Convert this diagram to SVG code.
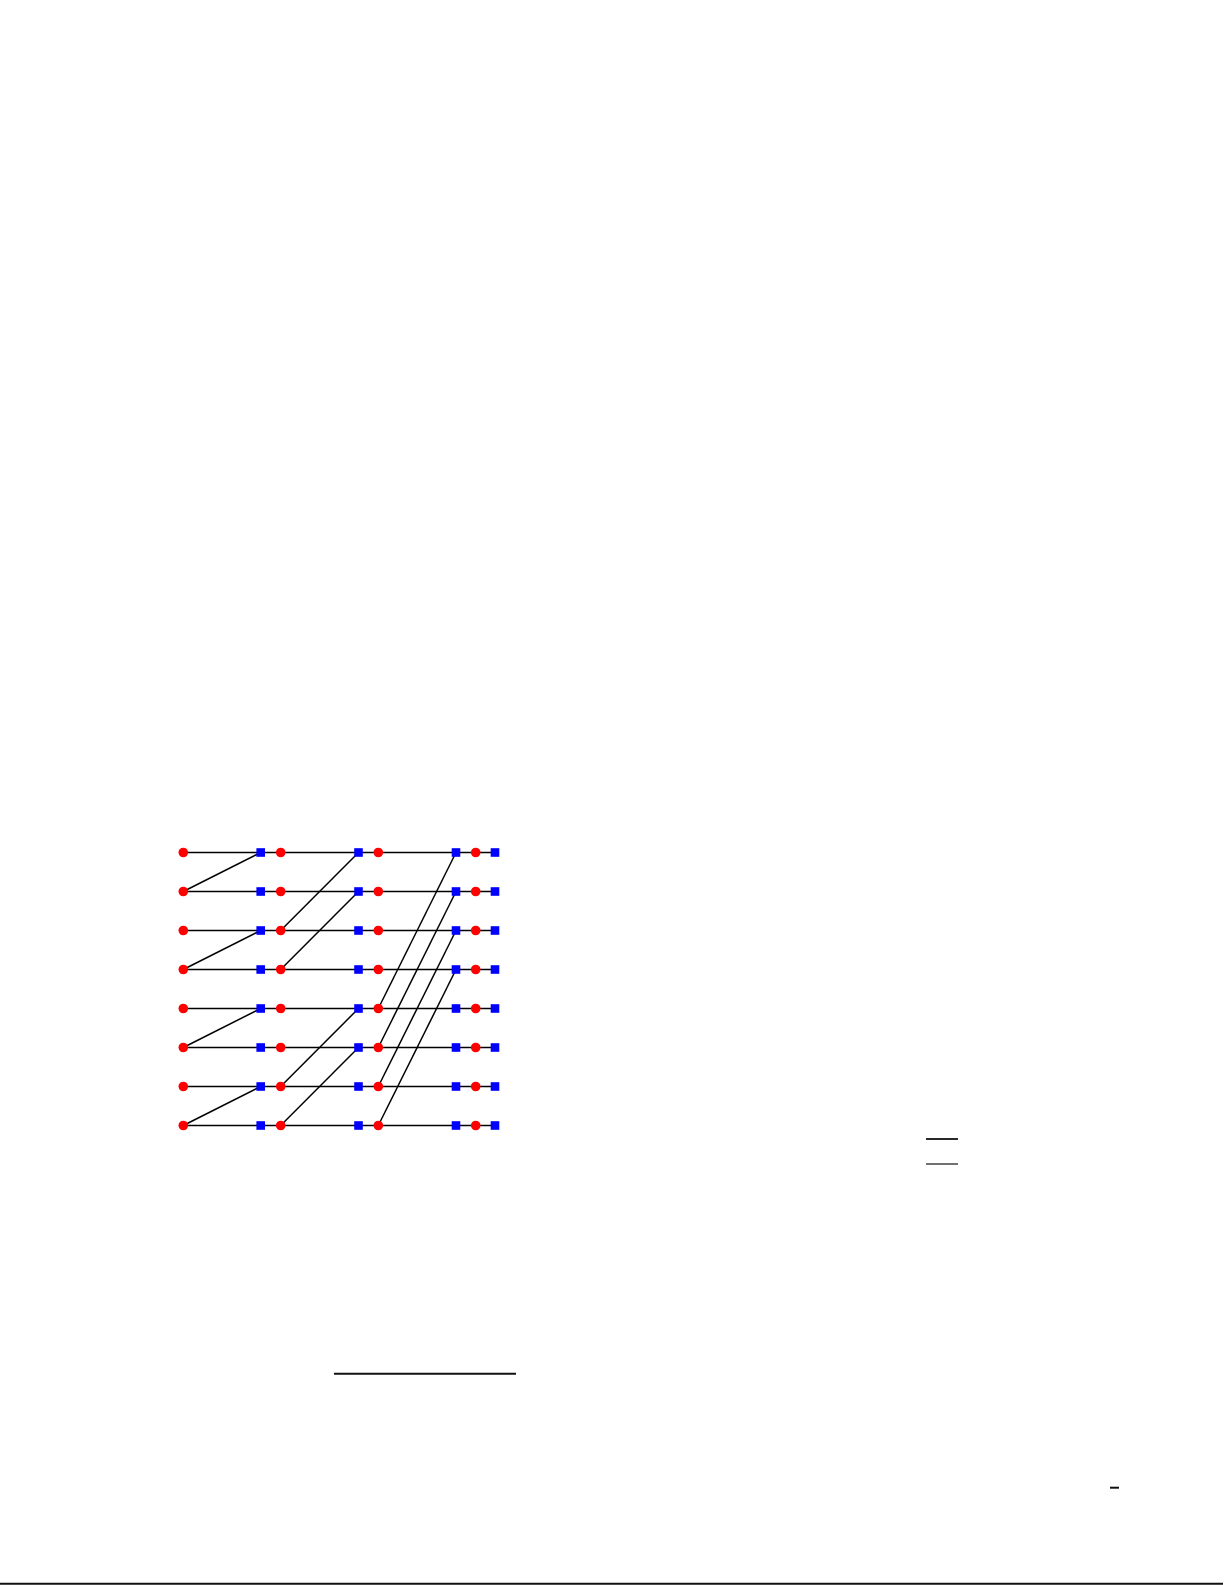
<svg xmlns="http://www.w3.org/2000/svg" width="1225" height="1585" viewBox="0 0 1225 1585">
<style>
.e{stroke:#000;stroke-width:1.5;fill:none}
.r{fill:#f00}
.b{fill:#00f}
.k{stroke:#111;fill:none}
</style>
<defs>
<circle id="rc" r="4.8" class="r"/>
<rect id="bs" x="-4.3" y="-4.3" width="8.6" height="8.6" class="b"/>
</defs>
<rect width="1225" height="1585" fill="#fff"/>
<g id="connectors">
<line class="e" x1="183.3" y1="852.5" x2="495" y2="852.5"/>
<line class="e" x1="183.3" y1="891.5" x2="495" y2="891.5"/>
<line class="e" x1="183.3" y1="930.5" x2="495" y2="930.5"/>
<line class="e" x1="183.3" y1="969.5" x2="495" y2="969.5"/>
<line class="e" x1="183.3" y1="1008.5" x2="495" y2="1008.5"/>
<line class="e" x1="183.3" y1="1047.5" x2="495" y2="1047.5"/>
<line class="e" x1="183.3" y1="1086.5" x2="495" y2="1086.5"/>
<line class="e" x1="183.3" y1="1125.5" x2="495" y2="1125.5"/>
<line class="e" x1="183.3" y1="891.5" x2="260.7" y2="852.5"/>
<line class="e" x1="183.3" y1="969.5" x2="260.7" y2="930.5"/>
<line class="e" x1="183.3" y1="1047.5" x2="260.7" y2="1008.5"/>
<line class="e" x1="183.3" y1="1125.5" x2="260.7" y2="1086.5"/>
<line class="e" x1="280.7" y1="930.5" x2="358.5" y2="852.5"/>
<line class="e" x1="280.7" y1="969.5" x2="358.5" y2="891.5"/>
<line class="e" x1="280.7" y1="1086.5" x2="358.5" y2="1008.5"/>
<line class="e" x1="280.7" y1="1125.5" x2="358.5" y2="1047.5"/>
<line class="e" x1="378.3" y1="1008.5" x2="456" y2="852.5"/>
<line class="e" x1="378.3" y1="1047.5" x2="456" y2="891.5"/>
<line class="e" x1="378.3" y1="1086.5" x2="456" y2="930.5"/>
<line class="e" x1="378.3" y1="1125.5" x2="456" y2="969.5"/>
</g>
<g id="col-r0">
<use href="#rc" x="183.3" y="852.5"/><use href="#rc" x="183.3" y="891.5"/><use href="#rc" x="183.3" y="930.5"/><use href="#rc" x="183.3" y="969.5"/>
<use href="#rc" x="183.3" y="1008.5"/><use href="#rc" x="183.3" y="1047.5"/><use href="#rc" x="183.3" y="1086.5"/><use href="#rc" x="183.3" y="1125.5"/>
</g>
<g id="col-b1">
<use href="#bs" x="260.7" y="852.5"/><use href="#bs" x="260.7" y="891.5"/><use href="#bs" x="260.7" y="930.5"/><use href="#bs" x="260.7" y="969.5"/>
<use href="#bs" x="260.7" y="1008.5"/><use href="#bs" x="260.7" y="1047.5"/><use href="#bs" x="260.7" y="1086.5"/><use href="#bs" x="260.7" y="1125.5"/>
</g>
<g id="col-r1">
<use href="#rc" x="280.7" y="852.5"/><use href="#rc" x="280.7" y="891.5"/><use href="#rc" x="280.7" y="930.5"/><use href="#rc" x="280.7" y="969.5"/>
<use href="#rc" x="280.7" y="1008.5"/><use href="#rc" x="280.7" y="1047.5"/><use href="#rc" x="280.7" y="1086.5"/><use href="#rc" x="280.7" y="1125.5"/>
</g>
<g id="col-b2">
<use href="#bs" x="358.5" y="852.5"/><use href="#bs" x="358.5" y="891.5"/><use href="#bs" x="358.5" y="930.5"/><use href="#bs" x="358.5" y="969.5"/>
<use href="#bs" x="358.5" y="1008.5"/><use href="#bs" x="358.5" y="1047.5"/><use href="#bs" x="358.5" y="1086.5"/><use href="#bs" x="358.5" y="1125.5"/>
</g>
<g id="col-r2">
<use href="#rc" x="378.3" y="852.5"/><use href="#rc" x="378.3" y="891.5"/><use href="#rc" x="378.3" y="930.5"/><use href="#rc" x="378.3" y="969.5"/>
<use href="#rc" x="378.3" y="1008.5"/><use href="#rc" x="378.3" y="1047.5"/><use href="#rc" x="378.3" y="1086.5"/><use href="#rc" x="378.3" y="1125.5"/>
</g>
<g id="col-b3">
<use href="#bs" x="456" y="852.5"/><use href="#bs" x="456" y="891.5"/><use href="#bs" x="456" y="930.5"/><use href="#bs" x="456" y="969.5"/>
<use href="#bs" x="456" y="1008.5"/><use href="#bs" x="456" y="1047.5"/><use href="#bs" x="456" y="1086.5"/><use href="#bs" x="456" y="1125.5"/>
</g>
<g id="col-r3">
<use href="#rc" x="475.7" y="852.5"/><use href="#rc" x="475.7" y="891.5"/><use href="#rc" x="475.7" y="930.5"/><use href="#rc" x="475.7" y="969.5"/>
<use href="#rc" x="475.7" y="1008.5"/><use href="#rc" x="475.7" y="1047.5"/><use href="#rc" x="475.7" y="1086.5"/><use href="#rc" x="475.7" y="1125.5"/>
</g>
<g id="col-b4">
<use href="#bs" x="495" y="852.5"/><use href="#bs" x="495" y="891.5"/><use href="#bs" x="495" y="930.5"/><use href="#bs" x="495" y="969.5"/>
<use href="#bs" x="495" y="1008.5"/><use href="#bs" x="495" y="1047.5"/><use href="#bs" x="495" y="1086.5"/><use href="#bs" x="495" y="1125.5"/>
</g>
<g id="rules">
<line class="k" x1="926" y1="1139" x2="958" y2="1139" stroke-width="1.8"/>
<line class="k" x1="926" y1="1164" x2="958" y2="1164" stroke-width="1.2"/>
<line class="k" x1="334" y1="1373.7" x2="516" y2="1373.7" stroke-width="2"/>
<line class="k" x1="1110" y1="1487.7" x2="1119" y2="1487.7" stroke-width="2"/>
<line class="k" x1="0" y1="1583.8" x2="1223" y2="1583.8" stroke-width="2"/>
</g>
</svg>
